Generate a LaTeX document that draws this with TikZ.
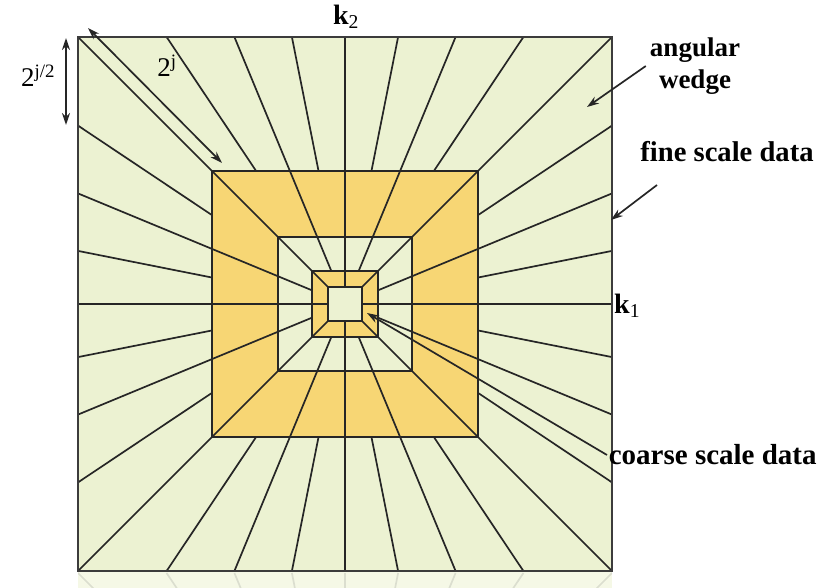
\documentclass[tikz,border=0pt]{standalone}
\usepackage{fontspec}
\setmainfont{Liberation Serif}
\usetikzlibrary{calc,arrows.meta}
\definecolor{paleg}{RGB}{236,242,210}
\definecolor{wedgeo}{RGB}{247,214,116}
\definecolor{edge}{RGB}{38,38,38}
\begin{document}
\begin{tikzpicture}[x=1pt,y=-1pt,>={Stealth[length=12pt,width=8pt]},line width=1.7pt,
  font=\fontsize{27}{32}\selectfont]
  \useasboundingbox (0,0) rectangle (836,588);
  \coordinate (C) at (345,304);

  % squares from outside in, halved each time
  \foreach \h/\c in {267/paleg,133/wedgeo,67/paleg,33/wedgeo,17/paleg}
    \fill[\c] ($(C)+(-\h,-\h)$) rectangle ($(C)+(\h,\h)$);

  % radial wedge lines: 45 deg from the centre, 22.5 deg from 2nd ring, 11.25 deg outside
  \foreach \k in {0,...,31} {
    \pgfmathsetmacro\a{11.25*\k}
    \pgfmathsetmacro\r{ifthenelse(mod(\k,4)==0,17,ifthenelse(mod(\k,2)==0,33,133))}
    \pgfmathsetmacro\m{max(abs(cos(\a)),abs(sin(\a)))}
    \pgfmathsetmacro\dx{cos(\a)/\m}
    \pgfmathsetmacro\dy{sin(\a)/\m}
    \draw[edge] ($(C)+({\r*\dx},{\r*\dy})$) -- ($(C)+({267*\dx},{267*\dy})$);
  }
  \foreach \h in {133,67,33,17}
    \draw[edge] ($(C)+(-\h,-\h)$) rectangle ($(C)+(\h,\h)$);
  \draw[edge!90,line width=2.3pt] ($(C)+(-267,-267)$) rectangle ($(C)+(267,267)$);

  % faint mirror image under the square
  \begin{scope}
    \clip (78,572) rectangle (612,588);
    \fill[paleg,opacity=0.55] (78,572) rectangle (612,588);
    \coordinate (Cm) at (345,840);
    \foreach \k in {0,...,31} {
      \pgfmathsetmacro\a{11.25*\k}
      \pgfmathsetmacro\m{max(abs(cos(\a)),abs(sin(\a)))}
      \draw[edge,opacity=0.12] ($(Cm)+({133*cos(\a)/\m},{133*sin(\a)/\m})$)
        -- ($(Cm)+({267*cos(\a)/\m},{267*sin(\a)/\m})$);
    }
  \end{scope}

  % axes labels
  \node[font=\fontsize{28}{32}\bfseries] (k2) at (346,17) {k\textsubscript{\mdseries 2}};
  \node[anchor=west,font=\fontsize{28}{32}\bfseries] (k1) at (610,306) {k\textsubscript{\mdseries 1}};

  % size of a wedge
  \coordinate (vt) at (66,38);
  \coordinate (vb) at (66,125);
  \draw[<->,edge] (vt) -- (vb);
  \node (lv) at (38,76) {2\textsuperscript{j/2}};
  \coordinate (dt) at (88,28);
  \coordinate (db) at (222,163);
  \draw[<->,edge] (dt) -- (db);
  \node (ld) at (167,66) {2\textsuperscript{j}};

  % callouts
  \node[align=center,font=\fontsize{27}{32}\bfseries] (wedge) at (695,66) {angular\\wedge};
  \coordinate (wt) at (587,107);
  \draw[->,edge] (wedge.west) -- (wt);

  \node[font=\fontsize{28.6}{32}\bfseries] (fine) at (727,152) {fine scale data};
  \coordinate (fs) at (657,185);
  \coordinate (ft) at (611,220);
  \draw[->,edge] (fs) -- (ft);

  \node[anchor=west,inner sep=1pt,font=\fontsize{29}{32}\bfseries] (coarse) at (607,455) {coarse scale data};
  \coordinate (ct) at (367,313);
  \draw[->,edge] (coarse.west) -- (ct);
\end{tikzpicture}
\end{document}
